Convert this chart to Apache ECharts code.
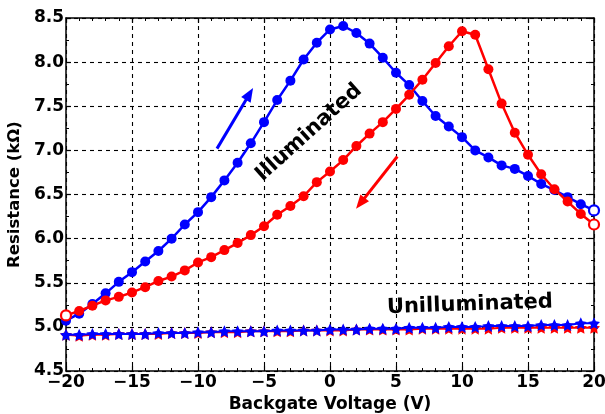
<!DOCTYPE html>
<html><head><meta charset="utf-8">
<script src="https://cdn.jsdelivr.net/npm/echarts@6/dist/echarts.min.js"></script>
<style>html,body{margin:0;padding:0;background:#fff;overflow:hidden}#c{width:605px;height:414px}</style>
</head><body><div id="c"></div>
<script>
const voltages = [-20,-19,-18,-17,-16,-15,-14,-13,-12,-11,-10,-9,-8,-7,-6,-5,-4,-3,-2,-1,0,1,2,3,4,5,6,7,8,9,10,11,12,13,14,15,16,17,18,19,20];
const illumForward = [5.07,5.15,5.26,5.38,5.51,5.62,5.74,5.86,6.00,6.16,6.30,6.47,6.66,6.86,7.08,7.32,7.57,7.79,8.03,8.22,8.37,8.41,8.33,8.21,8.05,7.88,7.74,7.56,7.39,7.27,7.15,7.00,6.92,6.83,6.79,6.71,6.62,6.55,6.47,6.39,6.32];
const illumReverse = [5.13,5.18,5.24,5.30,5.34,5.39,5.45,5.52,5.57,5.64,5.73,5.79,5.87,5.95,6.04,6.14,6.27,6.37,6.48,6.64,6.76,6.89,7.05,7.19,7.32,7.47,7.63,7.80,7.99,8.18,8.35,8.31,7.92,7.53,7.20,6.95,6.73,6.56,6.42,6.28,6.16];
const darkForward = [4.91,4.91,4.92,4.92,4.92,4.92,4.92,4.93,4.93,4.93,4.94,4.94,4.95,4.95,4.95,4.95,4.96,4.96,4.96,4.96,4.97,4.97,4.97,4.98,4.98,4.98,4.99,4.99,4.99,5.00,5.00,5.00,5.01,5.01,5.01,5.01,5.02,5.02,5.02,5.04,5.04];
const darkReverse = [4.91,4.90,4.91,4.91,4.92,4.92,4.92,4.92,4.93,4.93,4.93,4.94,4.94,4.94,4.95,4.95,4.95,4.95,4.96,4.96,4.96,4.96,4.97,4.97,4.97,4.97,4.97,4.98,4.98,4.98,4.98,4.98,4.98,4.99,4.99,4.99,4.99,4.99,4.99,4.99,4.99];
const hollowForward = [20];
const hollowReverse = [-20, 20];
const xTitle = 'Backgate Voltage (V)';
const yTitle = 'Resistance (kΩ)';
const illumText = 'Illuminated';
const darkText = 'Unilluminated';
const blueArrow = [[-8.56, 7.02], [-6.1, 7.64]];
const redArrow = [[5.10, 6.93], [2.3, 6.40]];
const illumTextPos = [-1.6, 7.2];
const darkTextPos = [10.6, 5.25];

const FONT = 'DejaVu Sans';
const BLUE = '#0000ff', RED = '#ff0000';

function pts(vals, hollow, color) {
  return voltages.map((v, i) => {
    if (hollow.indexOf(v) >= 0) {
      return {value: [v, vals[i]], itemStyle: {color: '#fff', borderColor: color, borderWidth: 2.2}};
    }
    return [v, vals[i]];
  });
}
const starPath = 'path://M0,-10L2.9,-4L9.5,-3.1L4.8,1.5L5.9,8.1L0,5L-5.9,8.1L-4.8,1.5L-9.5,-3.1L-2.9,-4Z';

const chart = echarts.init(document.getElementById('c'), null, {renderer: 'canvas'});
const axisLine = {show: true, onZero: false, lineStyle: {color: '#000', width: 1.5}};
const splitLine = {show: true, lineStyle: {color: '#000', width: 1.1, type: [4, 4]}};
chart.setOption({
  animation: false,
  grid: {left: 66, right: 11, top: 18, bottom: 43, containLabel: false, outerBoundsMode: 'none'},
  xAxis: [{
    type: 'value', min: -20, max: 20, interval: 5, position: 'bottom',
    axisLine, splitLine,
    axisTick: {show: true, inside: true, length: 5, lineStyle: {color: '#000', width: 1.2}},
    minorTick: {show: true, splitNumber: 5, length: 3, lineStyle: {color: '#000', width: 1}},
    axisLabel: {color: '#000', fontFamily: FONT, fontWeight: 'bold', fontSize: 17, margin: 3, hideOverlap: false,
      formatter: v => String(v).replace('-', '\u2212')},
    name: xTitle, nameLocation: 'middle', nameGap: 24,
    nameTextStyle: {color: '#000', fontFamily: FONT, fontWeight: 'bold', fontSize: 17}
  }, {
    type: 'value', min: -20, max: 20, interval: 5, position: 'top',
    axisLine, splitLine: {show: false}, axisLabel: {show: false},
    axisTick: {show: true, inside: true, length: 5, lineStyle: {color: '#000', width: 1.2}},
    minorTick: {show: true, splitNumber: 5, length: 3, lineStyle: {color: '#000', width: 1}}
  }],
  yAxis: [{
    type: 'value', min: 4.5, max: 8.5, interval: 0.5, position: 'left',
    axisLine, splitLine,
    axisTick: {show: true, inside: true, length: 5, lineStyle: {color: '#000', width: 1.2}},
    minorTick: {show: true, splitNumber: 2, length: 3, lineStyle: {color: '#000', width: 1}},
    axisLabel: {color: '#000', fontFamily: FONT, fontWeight: 'bold', fontSize: 17, margin: 2, hideOverlap: false,
      formatter: v => v.toFixed(1)},
    name: yTitle, nameLocation: 'middle', nameGap: 34,
    nameTextStyle: {color: '#000', fontFamily: FONT, fontWeight: 'bold', fontSize: 16.5}
  }, {
    type: 'value', min: 4.5, max: 8.5, interval: 0.5, position: 'right',
    axisLine, splitLine: {show: false}, axisLabel: {show: false},
    axisTick: {show: true, inside: true, length: 5, lineStyle: {color: '#000', width: 1.2}},
    minorTick: {show: true, splitNumber: 2, length: 3, lineStyle: {color: '#000', width: 1}}
  }],
  series: [
    {type: 'line', name: 'darkReverse', data: pts(darkReverse, [], RED), symbol: starPath, symbolSize: 12,
      lineStyle: {color: RED, width: 2}, itemStyle: {color: RED}, z: 2},
    {type: 'line', name: 'darkForward', data: pts(darkForward, [], BLUE), symbol: starPath, symbolSize: 12,
      lineStyle: {color: BLUE, width: 2}, itemStyle: {color: BLUE}, z: 3},
    {type: 'line', name: 'illumForward', data: pts(illumForward, hollowForward, BLUE), symbol: 'circle', symbolSize: 10,
      lineStyle: {color: BLUE, width: 2.5}, itemStyle: {color: BLUE}, z: 4,
      markLine: {silent: true, symbol: ['none', 'triangle'], symbolSize: [11, 14], label: {show: false},
        lineStyle: {color: BLUE, width: 3, type: 'solid'}, itemStyle: {color: BLUE},
        data: [[{coord: blueArrow[0]}, {coord: blueArrow[1]}]]},
      markPoint: {silent: true, symbol: 'circle', symbolSize: 0,
        data: [{coord: illumTextPos, label: {show: true, formatter: illumText, rotate: 42, color: '#000',
          fontFamily: FONT, fontWeight: 'bold', fontSize: 21, position: 'inside'}}]}
    },
    {type: 'line', name: 'illumReverse', data: pts(illumReverse, hollowReverse, RED), symbol: 'circle', symbolSize: 10,
      lineStyle: {color: RED, width: 2.5}, itemStyle: {color: RED}, z: 5,
      markLine: {silent: true, symbol: ['none', 'triangle'], symbolSize: [11, 14], label: {show: false},
        lineStyle: {color: RED, width: 3, type: 'solid'}, itemStyle: {color: RED},
        data: [[{coord: redArrow[0]}, {coord: redArrow[1]}]]},
      markPoint: {silent: true, symbol: 'circle', symbolSize: 0,
        data: [{coord: darkTextPos, label: {show: true, formatter: darkText, rotate: 2, color: '#000',
          fontFamily: FONT, fontWeight: 'bold', fontSize: 21, position: 'inside'}}]}
    }
  ]
});
</script></body></html>
